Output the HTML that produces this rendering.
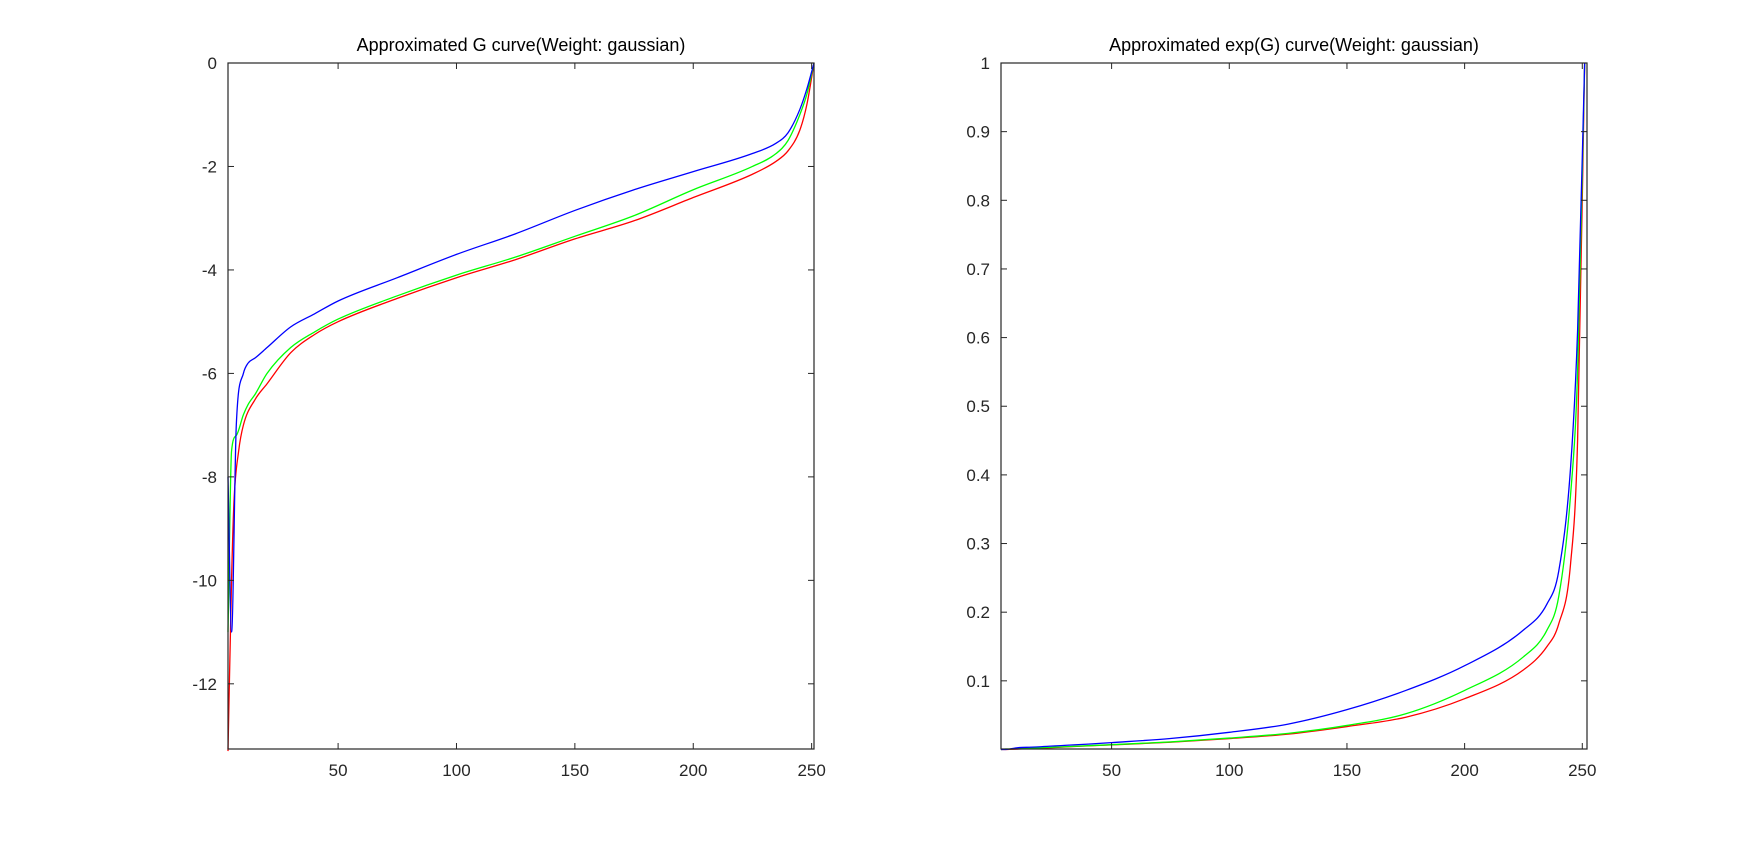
<!DOCTYPE html>
<html><head><meta charset="utf-8"><style>
html,body{margin:0;padding:0;background:#fff;}
svg{display:block;font-family:"Liberation Sans",Arial,sans-serif;}
</style></head><body>
<svg id="fig" width="1755" height="843" viewBox="0 0 1755 843"></svg>
<script>
// ---- data ----
const gX = [3.5,5,7,10,12,15,20,30,40,50,75,100,125,150,175,200,225,235,240,245,248,251];
const gBlue  = [-8,-11,-7,-6,-5.8,-5.7,-5.5,-5.1,-4.85,-4.6,-4.15,-3.7,-3.3,-2.85,-2.45,-2.1,-1.75,-1.55,-1.35,-0.9,-0.5,0];
const gGreen = [-11,-7.5,-7.2,-6.8,-6.6,-6.4,-6.0,-5.5,-5.2,-4.95,-4.5,-4.1,-3.75,-3.35,-2.95,-2.45,-2.0,-1.75,-1.5,-1.0,-0.6,0];
const gRedX  = [3.5,5,6,8,10,15,20,30,40,50,75,100,125,150,175,200,225,235,240,245,248,251];
const gRed   = [-13.3,-10,-8.5,-7.5,-7.0,-6.5,-6.2,-5.6,-5.25,-5.0,-4.55,-4.15,-3.8,-3.4,-3.05,-2.6,-2.15,-1.9,-1.7,-1.3,-0.8,0];
const eX = [3,5,7,10,12,15,20,30,40,50,75,100,125,150,175,200,225,235,240,245,248,251];
const eBlue  = [0,0,0.0009,0.0025,0.003,0.0033,0.004,0.006,0.0078,0.010,0.016,0.025,0.037,0.058,0.086,0.122,0.174,0.212,0.26,0.41,0.61,1];
const eGreen = [0,0.0006,0.0007,0.0011,0.0014,0.0017,0.0025,0.004,0.0055,0.007,0.011,0.0166,0.0235,0.035,0.052,0.086,0.135,0.174,0.223,0.37,0.55,1];
const eRed   = [0,0,0.0002,0.0006,0.0009,0.0015,0.002,0.0037,0.0052,0.0067,0.0106,0.0158,0.0224,0.0334,0.047,0.074,0.116,0.15,0.183,0.27,0.45,1];
const xTicks = [50,100,150,200,250];
const gYTicks = [0,-2,-4,-6,-8,-10,-12];
const eYTicks = [0.1,0.2,0.3,0.4,0.5,0.6,0.7,0.8,0.9,1];

const NS='http://www.w3.org/2000/svg';
const svg=document.getElementById('fig');
function mk(tag,attrs,parent){const e=document.createElementNS(NS,tag);for(const k in attrs)e.setAttribute(k,attrs[k]);(parent||svg).appendChild(e);return e;}

// monotone cubic path through pixel points
function smoothPath(px,py){
  const n=px.length; if(n<3){return px.map((x,i)=>(i?'L':'M')+x+' '+py[i]).join(' ');}
  const d=[],m=new Array(n);
  for(let i=0;i<n-1;i++){const h=px[i+1]-px[i];d.push(h===0?0:(py[i+1]-py[i])/h);}
  m[0]=d[0];m[n-1]=d[n-2];
  for(let i=1;i<n-1;i++){m[i]=(d[i-1]*d[i]<=0)?0:(d[i-1]+d[i])/2;}
  for(let i=0;i<n-1;i++){
    if(d[i]===0){m[i]=0;m[i+1]=0;continue;}
    const a=m[i]/d[i],b=m[i+1]/d[i],s=a*a+b*b;
    if(s>9){const t=3/Math.sqrt(s);m[i]=t*a*d[i];m[i+1]=t*b*d[i];}
  }
  let p='M'+px[0].toFixed(2)+' '+py[0].toFixed(2);
  for(let i=0;i<n-1;i++){
    const h=(px[i+1]-px[i])/3;
    p+=' C'+(px[i]+h).toFixed(2)+' '+(py[i]+m[i]*h).toFixed(2)+' '+(px[i+1]-h).toFixed(2)+' '+(py[i+1]-m[i+1]*h).toFixed(2)+' '+px[i+1].toFixed(2)+' '+py[i+1].toFixed(2);
  }
  return p;
}

function axes(cfg){
  const g=mk('g',{});
  
  
  const L=cfg.L,R=cfg.R,T=63,B=749;
  const sx=v=>L+(v-cfg.xmin)/(cfg.xmax-cfg.xmin)*(R-L);
  const sy=v=>B-(v-cfg.ymin)/(cfg.ymax-cfg.ymin)*(B-T);
  cfg.series.forEach(s=>{
    const d=smoothPath(s.x.map(sx),s.y.map(sy));
    const p=mk('path',{d:d,fill:'none',stroke:s.color,'stroke-width':1.3,'stroke-linejoin':'round'},g);
    
    
  });
  const box=mk('rect',{x:L,y:T,width:R-L,height:B-T,fill:'none',stroke:'#262626','stroke-width':1.2},g);
  
  
  xTicks.forEach(t=>{
    const x=sx(t);
    mk('line',{x1:x,x2:x,y1:B,y2:B-6,stroke:'#262626'},g);
    mk('line',{x1:x,x2:x,y1:T,y2:T+6,stroke:'#262626'},g);
    const tx=mk('text',{x:x,y:B+27,'text-anchor':'middle','font-size':17,fill:'#262626'},g);
    tx.textContent=t;
    
    
  });
  cfg.yTicks.forEach(t=>{
    const y=sy(t);
    mk('line',{x1:L,x2:L+6,y1:y,y2:y,stroke:'#262626'},g);
    mk('line',{x1:R,x2:R-6,y1:y,y2:y,stroke:'#262626'},g);
    const ty=mk('text',{x:L-11,y:y+6,'text-anchor':'end','font-size':17,fill:'#262626'},g);
    ty.textContent=t;
    
    
  });
  const ti=mk('text',{x:(L+R)/2,y:T-12,'text-anchor':'middle','font-size':18,fill:'#000'},g);
  ti.textContent=cfg.title;
  
  
}

axes({name:'g-curve-axes',L:228,R:814,xmin:3.5,xmax:251,ymin:-13.26,ymax:0,yTicks:gYTicks,
  title:'Approximated G curve(Weight: gaussian)',
  series:[{name:'red-channel-line',x:gRedX,y:gRed,color:'#ff0000'},
          {name:'green-channel-line',x:gX,y:gGreen,color:'#00ff00'},
          {name:'blue-channel-line',x:gX,y:gBlue,color:'#0000ff'}]});
axes({name:'exp-g-curve-axes',L:1001,R:1587,xmin:3,xmax:252,ymin:0.0007,ymax:1,yTicks:eYTicks,
  title:'Approximated exp(G) curve(Weight: gaussian)',
  series:[{name:'red-channel-line',x:eX,y:eRed,color:'#ff0000'},
          {name:'green-channel-line',x:eX,y:eGreen,color:'#00ff00'},
          {name:'blue-channel-line',x:eX,y:eBlue,color:'#0000ff'}]});
</script>
</body></html>
